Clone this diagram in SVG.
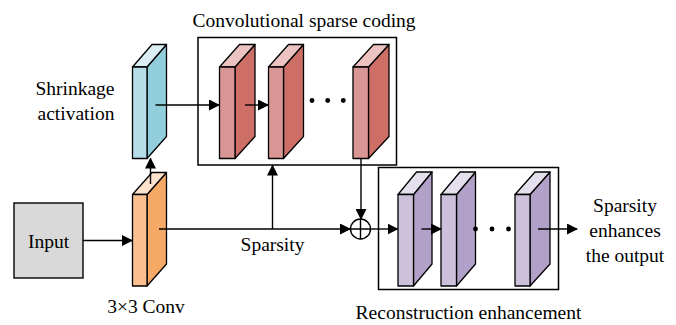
<svg xmlns="http://www.w3.org/2000/svg" width="676" height="325" viewBox="0 0 676 325">
<defs>
<marker id="ah" markerWidth="11" markerHeight="11" refX="10" refY="5.5" orient="auto" markerUnits="userSpaceOnUse"><path d="M0,0 L11,5.5 L0,11 Z" fill="#000"/></marker>
<style>
.ln{stroke:#000;stroke-width:1.4;fill:none}
.bx{stroke:#000;stroke-width:1.5;fill:none}
.b path{stroke:#000;stroke-width:1.3;stroke-linejoin:round}
.blue .f{fill:#b7dde8}.blue .s{fill:#92cddc}.blue .t{fill:#daeef3}
.red .f{fill:#da9694}.red .s{fill:#cd6f66}.red .t{fill:#ecc3c0}
.org .f{fill:#fac090}.org .s{fill:#f5a964}.org .t{fill:#fde2cc}
.pur .f{fill:#ccc0da}.pur .s{fill:#b1a0c7}.pur .t{fill:#e4dfec}
</style>
</defs>
<rect width="676" height="325" fill="#fff"/>

<g id="input"><rect x="14" y="203" width="69" height="75" fill="#d9d9d9" stroke="#000" stroke-width="1.4"/><text x="48.5" y="248" text-anchor="middle" font-family="Liberation Serif" font-size="19.5">Input</text></g>

<g id="conv3x3" class="b org">
<path class="s" d="M147,286 L166.5,264 L166.5,172.5 L147,194.5 Z"/>
<path class="t" d="M132.5,194.5 L152,172.5 L166.5,172.5 L147,194.5 Z"/>
<path class="f" d="M132.5,194.5 H147 V286 H132.5 Z"/>
<text x="146" y="313" text-anchor="middle" font-family="Liberation Serif" font-size="19.5">3×3 Conv</text>
</g>

<g id="shrink" class="b blue">
<path class="s" d="M147,158.5 L166.5,136.5 L166.5,44.5 L147,67 Z"/>
<path class="t" d="M132.5,67 L152,44.5 L166.5,44.5 L147,67 Z"/>
<path class="f" d="M132.5,67 H147 V158.5 H132.5 Z"/>
<text x="75" y="95" text-anchor="middle" font-family="Liberation Serif" font-size="19.5">Shrinkage</text>
<text x="76" y="120" text-anchor="middle" font-family="Liberation Serif" font-size="19.5">activation</text>
</g>

<g id="csc">
<rect class="bx" x="198" y="37.5" width="198.5" height="127.5"/>
<text x="304" y="27" text-anchor="middle" font-family="Liberation Serif" font-size="19.5">Convolutional sparse coding</text>
<g class="b red">
<path class="s" d="M235,158.5 L255,136.5 L255,44.5 L235,67 Z"/><path class="t" d="M219.5,67 L239.5,44.5 L255,44.5 L235,67 Z"/><path class="f" d="M219.5,67 H235 V158.5 H219.5 Z"/>
<path class="s" d="M283.5,158.5 L303.5,136.5 L303.5,44.5 L283.5,67 Z"/><path class="t" d="M268.5,67 L288.5,44.5 L303.5,44.5 L283.5,67 Z"/><path class="f" d="M268.5,67 H283.5 V158.5 H268.5 Z"/>
<path class="s" d="M368.5,158.5 L389,136.5 L389,44.5 L368.5,67 Z"/><path class="t" d="M353,67 L373.5,44.5 L389,44.5 L368.5,67 Z"/><path class="f" d="M353,67 H368.5 V158.5 H353 Z"/>
</g>
<circle cx="312" cy="100.5" r="2.4"/><circle cx="327.7" cy="100.5" r="2.4"/><circle cx="343.3" cy="100.5" r="2.4"/>
</g>

<g id="recon">
<rect class="bx" x="378.5" y="167.5" width="180" height="122"/>
<text x="468.5" y="319" text-anchor="middle" font-family="Liberation Serif" font-size="19.5">Reconstruction enhancement</text>
<g class="b pur">
<path class="s" d="M413.5,286 L432,264 L432,172 L413.5,194.5 Z"/><path class="t" d="M398,194.5 L416.5,172 L432,172 L413.5,194.5 Z"/><path class="f" d="M398,194.5 H413.5 V286 H398 Z"/>
<path class="s" d="M456.5,286 L475.5,264 L475.5,172 L456.5,194.5 Z"/><path class="t" d="M441,194.5 L460,172 L475.5,172 L456.5,194.5 Z"/><path class="f" d="M441,194.5 H456.5 V286 H441 Z"/>
<path class="s" d="M530,286 L550,264 L550,172 L530,194.5 Z"/><path class="t" d="M515,194.5 L535,172 L550,172 L530,194.5 Z"/><path class="f" d="M515,194.5 H530 V286 H515 Z"/>
</g>
<circle cx="475.5" cy="229" r="2.4"/><circle cx="492" cy="229" r="2.4"/><circle cx="508.5" cy="229" r="2.4"/>
</g>

<g id="output"><text x="625" y="212" text-anchor="middle" font-family="Liberation Serif" font-size="19.5">Sparsity</text><text x="625" y="237" text-anchor="middle" font-family="Liberation Serif" font-size="19.5">enhances</text><text x="625" y="262" text-anchor="middle" font-family="Liberation Serif" font-size="19.5">the output</text></g>

<g id="sum"><circle cx="360.5" cy="229" r="10" fill="#fff" stroke="#000" stroke-width="1.4"/><path class="ln" d="M350.5,229 H370.5 M360.5,219 V239"/></g>

<g id="connectors">
<path class="ln" d="M83,240.5 H132" marker-end="url(#ah)"/>
<path class="ln" d="M150.5,184 V158.5" marker-end="url(#ah)"/>
<path class="ln" d="M155.5,105 H219" marker-end="url(#ah)"/>
<path class="ln" d="M245,105 H268" marker-end="url(#ah)"/>
<path class="ln" d="M159,229 H350" marker-end="url(#ah)"/>
<path class="ln" d="M272.5,229 V165.5" marker-end="url(#ah)"/>
<text x="272.5" y="251" text-anchor="middle" font-family="Liberation Serif" font-size="19.5">Sparsity</text>
<path class="ln" d="M361,158.5 V219" marker-end="url(#ah)"/>
<path class="ln" d="M370.5,229 H397.5" marker-end="url(#ah)"/>
<path class="ln" d="M421.5,229 H441" marker-end="url(#ah)"/>
<path class="ln" d="M538,229 H577" marker-end="url(#ah)"/>
</g>
</svg>
